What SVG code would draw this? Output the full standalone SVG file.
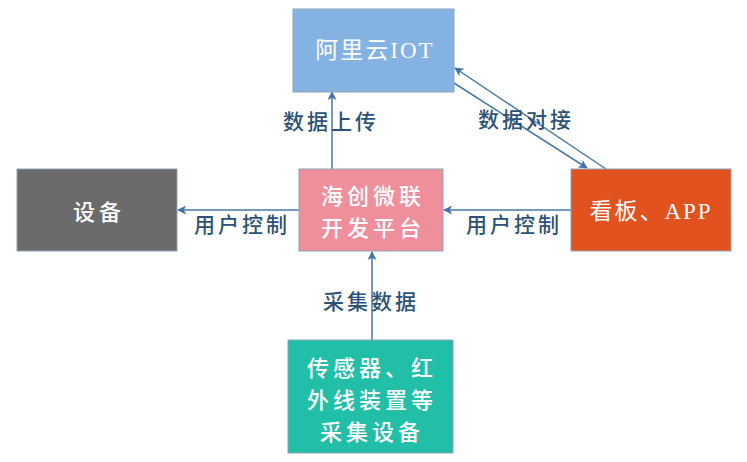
<svg xmlns="http://www.w3.org/2000/svg" width="747" height="462" viewBox="0 0 747 462">
<defs>
<marker id="arr" viewBox="0 0 10 10" refX="9" refY="5" markerWidth="9" markerHeight="9" markerUnits="userSpaceOnUse" orient="auto">
<path d="M0,0 L10,5 L0,10 L2.5,5 Z" fill="#3f75a6"/>
</marker>
</defs>
<style>
.box{stroke:#8fa3b8;stroke-width:1}
.t{font-family:"Noto Sans CJK SC","Noto Sans",sans-serif;font-size:22px;font-weight:500;fill:#ffffff;text-anchor:middle;dominant-baseline:central;letter-spacing:4px}
.ts{font-family:"Liberation Serif","Noto Sans CJK SC",serif;font-size:23px;fill:#ffffff;text-anchor:middle;dominant-baseline:central;letter-spacing:2px}
.lb{font-family:"Noto Sans CJK SC","Noto Sans",sans-serif;font-size:21px;font-weight:500;fill:#2c5275;text-anchor:middle;dominant-baseline:central;letter-spacing:3px}
.ln{stroke:#4a79a3;stroke-width:1.5;fill:none;marker-end:url(#arr)}
</style>
<rect width="747" height="462" fill="#ffffff"/>
<g id="connectors">
<line class="ln" x1="332" y1="169" x2="332" y2="92"/>
<line class="ln" x1="571" y1="210" x2="444" y2="210"/>
<line class="ln" x1="299" y1="210" x2="178" y2="210"/>
<line class="ln" x1="372" y1="340" x2="372" y2="252"/>
<line class="ln" x1="606" y1="169" x2="455" y2="68"/>
<line class="ln" x1="454" y1="83" x2="587" y2="168"/>
<text class="lb" x="331" y="120">数据上传</text>
<text class="lb" x="526" y="118">数据对接</text>
<text class="lb" x="242" y="223">用户控制</text>
<text class="lb" x="514" y="223">用户控制</text>
<text class="lb" x="371" y="300">采集数据</text>
</g>
<g id="aliyun">
<rect class="box" x="293" y="9" width="161" height="83" fill="#84b2e2"/>
<text class="ts" x="375" y="50">阿里云IOT</text>
</g>
<g id="device">
<rect class="box" x="17" y="169" width="160" height="82" fill="#6b6b6b"/>
<text class="t" x="99" y="210">设备</text>
</g>
<g id="platform">
<rect class="box" x="299" y="169" width="144" height="82" fill="#ef8f9b"/>
<text class="t" x="373" y="194">海创微联</text>
<text class="t" x="373" y="226">开发平台</text>
</g>
<g id="app">
<rect class="box" x="571" y="169" width="160" height="82" fill="#e2521f"/>
<text class="ts" x="651" y="211">看板、APP</text>
</g>
<g id="sensor">
<rect class="box" x="288" y="340" width="165" height="113" fill="#21bfa7"/>
<text class="t" x="372" y="366">传感器、红</text>
<text class="t" x="372" y="398">外线装置等</text>
<text class="t" x="372" y="430">采集设备</text>
</g>
</svg>
